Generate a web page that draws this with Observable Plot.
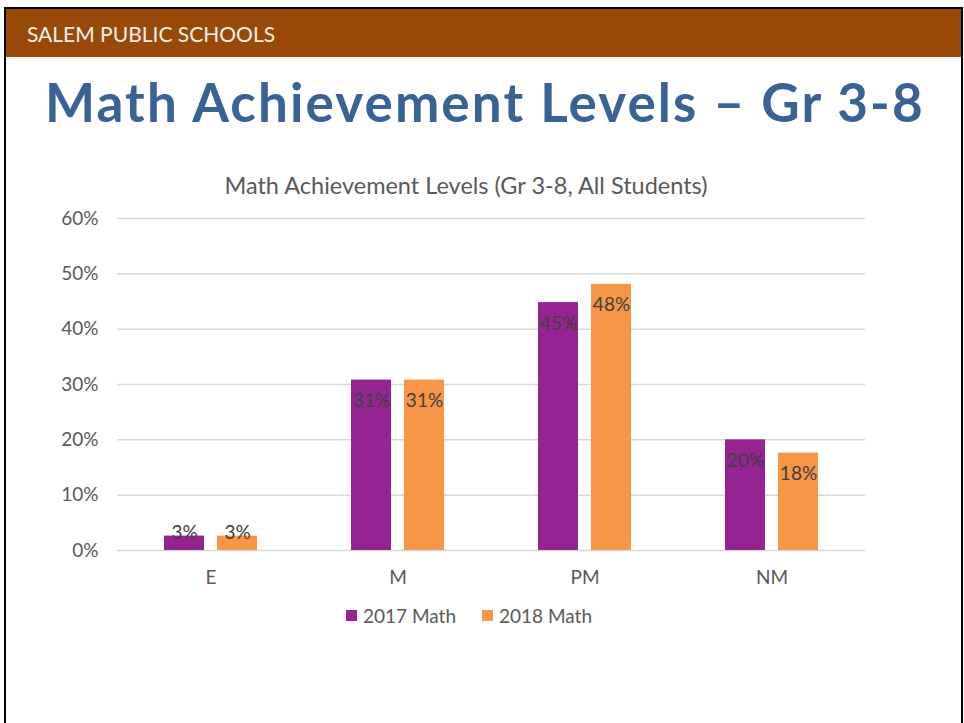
<!DOCTYPE html>
<html>
<head>
<meta charset="utf-8">
<script src="https://cdn.jsdelivr.net/npm/d3@7"></script>
<script src="https://cdn.jsdelivr.net/npm/@observablehq/plot@0.6"></script>
<style>
  html, body { margin: 0; padding: 0; background: #fff; width: 964px; height: 723px; overflow: hidden; }
  .slide { position: absolute; left: 4px; top: 7px; width: 955px; height: 740px; border: 2px solid #000; border-bottom: none; }
  .header { position: absolute; left: 0; top: 0; width: 100%; height: 48px; background: #994a08; }
  .abs { position: absolute; white-space: nowrap; line-height: 1; }
  #org { left: 27px; top: 21px; font: 400 21px Lato, sans-serif; color: #f4f0ea; }
  #title { left: 45px; top: 70px; font: 700 53px Lato, sans-serif; color: #386394; letter-spacing: 2.1px; }
  #ctitle { left: 0; width: 932px; text-align: center; top: 171px; font: 400 23.5px Lato, sans-serif; color: #595959; }
  #legend { left: 0; width: 938px; top: 604px; display: flex; justify-content: center; gap: 26px; font: 400 19px Lato, sans-serif; color: #595959; }
  .item { display: flex; align-items: center; gap: 6px; }
  .sw { width: 11px; height: 11px; display: inline-block; }
  #chart { position: absolute; left: 0; top: 195px; }
</style>
</head>
<body>
<div class="slide"><div class="header"></div></div>
<div id="org" class="abs">SALEM PUBLIC SCHOOLS</div>
<div id="title" class="abs">Math Achievement Levels – Gr 3-8</div>
<div id="ctitle" class="abs">Math Achievement Levels (Gr 3-8, All Students)</div>
<div id="legend" class="abs"></div>
<div id="chart"></div>
<script>
const categories = ["E", "M", "PM", "NM"];
const series = ["2017 Math", "2018 Math"];
const values2017 = [2.6, 30.8, 44.8, 20.0];
const values2018 = [2.6, 30.8, 48.1, 17.6];
const yTicks = [0, 10, 20, 30, 40, 50, 60];
const colors = ["#952391", "#f79646"];

const rows = [];
categories.forEach((c, i) => {
  rows.push({category: c, series: series[0], value: values2017[i]});
  rows.push({category: c, series: series[1], value: values2018[i]});
});

const chart = Plot.plot({
  width: 964,
  height: 400,
  marginLeft: 116,
  marginRight: 98,
  marginTop: 23,
  marginBottom: 45,
  facet: {data: rows, x: "category"},
  fx: {domain: categories, padding: 0, label: null, axis: "bottom", tickSize: 0, tickPadding: 20},
  x: {domain: series, axis: null, paddingInner: 0.24, paddingOuter: 0.856},
  y: {domain: [0, 60], ticks: yTicks, tickFormat: d => d + "%", tickSize: 0, tickPadding: 19, label: null},
  color: {domain: series, range: colors},
  style: {fontFamily: "Lato, sans-serif", fontSize: "19px", color: "#595959", background: "transparent"},
  marks: [
    Plot.ruleY(yTicks, {stroke: "#d9d9d9", strokeWidth: 1.5}),
    Plot.barY(rows, {x: "series", y: "value", fill: "series"}),
    Plot.text(rows, {filter: d => d.value >= 5, x: "series", y: "value", text: d => Math.round(d.value) + "%", dy: 21, fill: "#404040", fontSize: 19}),
    Plot.text(rows, {filter: d => d.value < 5, x: "series", y: "value", text: d => Math.round(d.value) + "%", dy: -3, fill: "#404040", fontSize: 19})
  ]
});
document.getElementById("chart").appendChild(chart);

const legend = document.getElementById("legend");
series.forEach((s, i) => {
  const item = document.createElement("div");
  item.className = "item";
  const sw = document.createElement("span");
  sw.className = "sw";
  sw.style.background = colors[i];
  const t = document.createElement("span");
  t.textContent = s;
  item.appendChild(sw);
  item.appendChild(t);
  legend.appendChild(item);
});
</script>
</body>
</html>
